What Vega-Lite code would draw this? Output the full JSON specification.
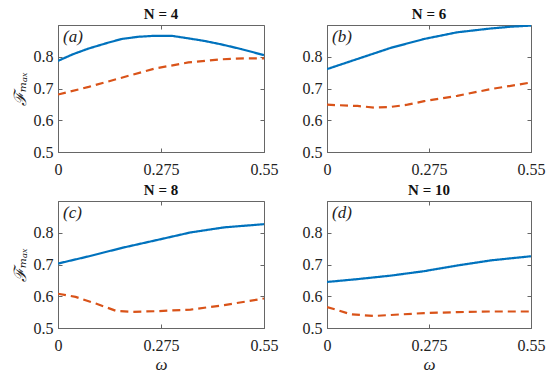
{
  "$schema": "https://vega.github.io/schema/vega-lite/v6.json",
  "background": "white",
  "padding": {"left": 10, "top": 6, "right": 5, "bottom": 2},
  "config": {
    "font": "'Times New Roman', Times, 'Liberation Serif', 'DejaVu Serif', serif",
    "view": {"stroke": "#666", "strokeWidth": 1},
    "axis": {"grid": false, "domainColor": "#666", "tickColor": "#666", "tickSize": -4, "labelPadding": 9, "labelFont": "'Times New Roman', Times, 'Liberation Serif', 'DejaVu Serif', serif", "labelFontSize": 16, "labelColor": "#222", "labelFlush": false, "labelOverlap": false, "titleFont": "'Times New Roman', Times, 'Liberation Serif', 'DejaVu Serif', serif", "titleFontSize": 17, "titleFontStyle": "italic", "titleFontWeight": "normal", "titleColor": "#222"},
    "axisBottom": {"labelPadding": 13},
    "title": {"font": "'Times New Roman', Times, 'Liberation Serif', 'DejaVu Serif', serif", "fontSize": 15, "fontWeight": "bold", "color": "#111", "offset": 3},
    "text": {"font": "'Times New Roman', Times, 'Liberation Serif', 'DejaVu Serif', serif"}
  },
  "columns": 2,
  "spacing": {"row": 4, "column": 22},
  "data": {"values": [
    {"N": 4, "s": "solid", "w": 0, "F": 0.787},
    {"N": 4, "s": "solid", "w": 0.04, "F": 0.808},
    {"N": 4, "s": "solid", "w": 0.082, "F": 0.826},
    {"N": 4, "s": "solid", "w": 0.13, "F": 0.843},
    {"N": 4, "s": "solid", "w": 0.17, "F": 0.856},
    {"N": 4, "s": "solid", "w": 0.215, "F": 0.863},
    {"N": 4, "s": "solid", "w": 0.259, "F": 0.866},
    {"N": 4, "s": "solid", "w": 0.303, "F": 0.866},
    {"N": 4, "s": "solid", "w": 0.348, "F": 0.858},
    {"N": 4, "s": "solid", "w": 0.39, "F": 0.85},
    {"N": 4, "s": "solid", "w": 0.436, "F": 0.839},
    {"N": 4, "s": "solid", "w": 0.49, "F": 0.824},
    {"N": 4, "s": "solid", "w": 0.55, "F": 0.805},
    {"N": 4, "s": "dashed", "w": 0, "F": 0.681},
    {"N": 4, "s": "dashed", "w": 0.082, "F": 0.705},
    {"N": 4, "s": "dashed", "w": 0.17, "F": 0.734},
    {"N": 4, "s": "dashed", "w": 0.259, "F": 0.763},
    {"N": 4, "s": "dashed", "w": 0.348, "F": 0.782},
    {"N": 4, "s": "dashed", "w": 0.436, "F": 0.792},
    {"N": 4, "s": "dashed", "w": 0.5, "F": 0.795},
    {"N": 4, "s": "dashed", "w": 0.55, "F": 0.795},
    {"N": 6, "s": "solid", "w": 0, "F": 0.761},
    {"N": 6, "s": "solid", "w": 0.082, "F": 0.793},
    {"N": 6, "s": "solid", "w": 0.172, "F": 0.828},
    {"N": 6, "s": "solid", "w": 0.262, "F": 0.856},
    {"N": 6, "s": "solid", "w": 0.351, "F": 0.877},
    {"N": 6, "s": "solid", "w": 0.441, "F": 0.889},
    {"N": 6, "s": "solid", "w": 0.5, "F": 0.895},
    {"N": 6, "s": "solid", "w": 0.55, "F": 0.898},
    {"N": 6, "s": "dashed", "w": 0, "F": 0.649},
    {"N": 6, "s": "dashed", "w": 0.082, "F": 0.645},
    {"N": 6, "s": "dashed", "w": 0.127, "F": 0.64},
    {"N": 6, "s": "dashed", "w": 0.172, "F": 0.642},
    {"N": 6, "s": "dashed", "w": 0.217, "F": 0.649},
    {"N": 6, "s": "dashed", "w": 0.262, "F": 0.66},
    {"N": 6, "s": "dashed", "w": 0.351, "F": 0.677},
    {"N": 6, "s": "dashed", "w": 0.441, "F": 0.698},
    {"N": 6, "s": "dashed", "w": 0.55, "F": 0.719},
    {"N": 8, "s": "solid", "w": 0, "F": 0.703},
    {"N": 8, "s": "solid", "w": 0.083, "F": 0.726},
    {"N": 8, "s": "solid", "w": 0.173, "F": 0.753},
    {"N": 8, "s": "solid", "w": 0.264, "F": 0.777},
    {"N": 8, "s": "solid", "w": 0.354, "F": 0.801},
    {"N": 8, "s": "solid", "w": 0.444, "F": 0.817},
    {"N": 8, "s": "solid", "w": 0.55, "F": 0.827},
    {"N": 8, "s": "dashed", "w": 0, "F": 0.608},
    {"N": 8, "s": "dashed", "w": 0.047, "F": 0.598},
    {"N": 8, "s": "dashed", "w": 0.101, "F": 0.577},
    {"N": 8, "s": "dashed", "w": 0.155, "F": 0.554},
    {"N": 8, "s": "dashed", "w": 0.2, "F": 0.551},
    {"N": 8, "s": "dashed", "w": 0.264, "F": 0.553},
    {"N": 8, "s": "dashed", "w": 0.354, "F": 0.558},
    {"N": 8, "s": "dashed", "w": 0.444, "F": 0.572},
    {"N": 8, "s": "dashed", "w": 0.55, "F": 0.593},
    {"N": 10, "s": "solid", "w": 0, "F": 0.645},
    {"N": 10, "s": "solid", "w": 0.083, "F": 0.654},
    {"N": 10, "s": "solid", "w": 0.172, "F": 0.665},
    {"N": 10, "s": "solid", "w": 0.262, "F": 0.679},
    {"N": 10, "s": "solid", "w": 0.352, "F": 0.697},
    {"N": 10, "s": "solid", "w": 0.442, "F": 0.713},
    {"N": 10, "s": "solid", "w": 0.55, "F": 0.726},
    {"N": 10, "s": "dashed", "w": 0, "F": 0.566},
    {"N": 10, "s": "dashed", "w": 0.029, "F": 0.556},
    {"N": 10, "s": "dashed", "w": 0.065, "F": 0.543},
    {"N": 10, "s": "dashed", "w": 0.128, "F": 0.538},
    {"N": 10, "s": "dashed", "w": 0.172, "F": 0.541},
    {"N": 10, "s": "dashed", "w": 0.262, "F": 0.547},
    {"N": 10, "s": "dashed", "w": 0.352, "F": 0.55},
    {"N": 10, "s": "dashed", "w": 0.442, "F": 0.552},
    {"N": 10, "s": "dashed", "w": 0.55, "F": 0.552}
  ]},
  "concat": [
    {
      "title": "N = 4", "width": 206, "height": 127,
      "resolve": {"axis": {"x": "independent", "y": "independent"}},
      "layer": [
        {
          "transform": [{"filter": "datum.N == 4"}],
          "mark": {"type": "line", "strokeWidth": 2.2, "clip": true},
          "encoding": {
            "x": {"field": "w", "type": "quantitative", "scale": {"domain": [0, 0.55], "nice": false, "zero": false}, "axis": {"orient": "bottom", "values": [0, 0.275, 0.55], "format": ".3~f", "title": null}},
            "y": {"field": "F", "type": "quantitative", "scale": {"domain": [0.5, 0.9], "nice": false, "zero": false}, "axis": {"orient": "left", "values": [0.5, 0.6, 0.7, 0.8], "format": ".1f", "title": "ℱₘₐₓ", "titlePadding": 4}},
            "color": {"field": "s", "type": "nominal", "scale": {"domain": ["solid", "dashed"], "range": ["#0072BD", "#D95319"]}, "legend": null},
            "strokeDash": {"field": "s", "type": "nominal", "scale": {"domain": ["solid", "dashed"], "range": [[1, 0], [8, 5]]}, "legend": null}
          }
        },
        {
          "data": {"values": [{"label": "(a)"}]},
          "mark": {"type": "text", "align": "left", "baseline": "top", "dx": 5, "dy": 4, "fontSize": 17, "fontStyle": "italic", "color": "#222"},
          "encoding": {"x": {"datum": 0, "type": "quantitative", "scale": {"domain": [0, 0.55], "nice": false, "zero": false}, "axis": {"orient": "top", "labels": false, "title": null, "values": [0, 0.275, 0.55], "domain": false}}, "y": {"datum": 0.9, "type": "quantitative", "scale": {"domain": [0.5, 0.9], "nice": false, "zero": false}, "axis": {"orient": "right", "labels": false, "title": null, "values": [0.5, 0.6, 0.7, 0.8], "domain": false}}, "text": {"field": "label"}}
        }
      ]
    },
    {
      "title": "N = 6", "width": 204, "height": 127,
      "resolve": {"axis": {"x": "independent", "y": "independent"}},
      "layer": [
        {
          "transform": [{"filter": "datum.N == 6"}],
          "mark": {"type": "line", "strokeWidth": 2.2, "clip": true},
          "encoding": {
            "x": {"field": "w", "type": "quantitative", "scale": {"domain": [0, 0.55], "nice": false, "zero": false}, "axis": {"orient": "bottom", "values": [0, 0.275, 0.55], "format": ".3~f", "title": null}},
            "y": {"field": "F", "type": "quantitative", "scale": {"domain": [0.5, 0.9], "nice": false, "zero": false}, "axis": {"orient": "left", "values": [0.5, 0.6, 0.7, 0.8], "format": ".1f", "title": null}},
            "color": {"field": "s", "type": "nominal", "scale": {"domain": ["solid", "dashed"], "range": ["#0072BD", "#D95319"]}, "legend": null},
            "strokeDash": {"field": "s", "type": "nominal", "scale": {"domain": ["solid", "dashed"], "range": [[1, 0], [8, 5]]}, "legend": null}
          }
        },
        {
          "data": {"values": [{"label": "(b)"}]},
          "mark": {"type": "text", "align": "left", "baseline": "top", "dx": 5, "dy": 4, "fontSize": 17, "fontStyle": "italic", "color": "#222"},
          "encoding": {"x": {"datum": 0, "type": "quantitative", "scale": {"domain": [0, 0.55], "nice": false, "zero": false}, "axis": {"orient": "top", "labels": false, "title": null, "values": [0, 0.275, 0.55], "domain": false}}, "y": {"datum": 0.9, "type": "quantitative", "scale": {"domain": [0.5, 0.9], "nice": false, "zero": false}, "axis": {"orient": "right", "labels": false, "title": null, "values": [0.5, 0.6, 0.7, 0.8], "domain": false}}, "text": {"field": "label"}}
        }
      ]
    },
    {
      "title": "N = 8", "width": 206, "height": 127,
      "resolve": {"axis": {"x": "independent", "y": "independent"}},
      "layer": [
        {
          "transform": [{"filter": "datum.N == 8"}],
          "mark": {"type": "line", "strokeWidth": 2.2, "clip": true},
          "encoding": {
            "x": {"field": "w", "type": "quantitative", "scale": {"domain": [0, 0.55], "nice": false, "zero": false}, "axis": {"orient": "bottom", "values": [0, 0.275, 0.55], "format": ".3~f", "title": "ω", "titlePadding": 3}},
            "y": {"field": "F", "type": "quantitative", "scale": {"domain": [0.5, 0.9], "nice": false, "zero": false}, "axis": {"orient": "left", "values": [0.5, 0.6, 0.7, 0.8], "format": ".1f", "title": "ℱₘₐₓ", "titlePadding": 4}},
            "color": {"field": "s", "type": "nominal", "scale": {"domain": ["solid", "dashed"], "range": ["#0072BD", "#D95319"]}, "legend": null},
            "strokeDash": {"field": "s", "type": "nominal", "scale": {"domain": ["solid", "dashed"], "range": [[1, 0], [8, 5]]}, "legend": null}
          }
        },
        {
          "data": {"values": [{"label": "(c)"}]},
          "mark": {"type": "text", "align": "left", "baseline": "top", "dx": 5, "dy": 4, "fontSize": 17, "fontStyle": "italic", "color": "#222"},
          "encoding": {"x": {"datum": 0, "type": "quantitative", "scale": {"domain": [0, 0.55], "nice": false, "zero": false}, "axis": {"orient": "top", "labels": false, "title": null, "values": [0, 0.275, 0.55], "domain": false}}, "y": {"datum": 0.9, "type": "quantitative", "scale": {"domain": [0.5, 0.9], "nice": false, "zero": false}, "axis": {"orient": "right", "labels": false, "title": null, "values": [0.5, 0.6, 0.7, 0.8], "domain": false}}, "text": {"field": "label"}}
        }
      ]
    },
    {
      "title": "N = 10", "width": 204, "height": 127,
      "resolve": {"axis": {"x": "independent", "y": "independent"}},
      "layer": [
        {
          "transform": [{"filter": "datum.N == 10"}],
          "mark": {"type": "line", "strokeWidth": 2.2, "clip": true},
          "encoding": {
            "x": {"field": "w", "type": "quantitative", "scale": {"domain": [0, 0.55], "nice": false, "zero": false}, "axis": {"orient": "bottom", "values": [0, 0.275, 0.55], "format": ".3~f", "title": "ω", "titlePadding": 3}},
            "y": {"field": "F", "type": "quantitative", "scale": {"domain": [0.5, 0.9], "nice": false, "zero": false}, "axis": {"orient": "left", "values": [0.5, 0.6, 0.7, 0.8], "format": ".1f", "title": null}},
            "color": {"field": "s", "type": "nominal", "scale": {"domain": ["solid", "dashed"], "range": ["#0072BD", "#D95319"]}, "legend": null},
            "strokeDash": {"field": "s", "type": "nominal", "scale": {"domain": ["solid", "dashed"], "range": [[1, 0], [8, 5]]}, "legend": null}
          }
        },
        {
          "data": {"values": [{"label": "(d)"}]},
          "mark": {"type": "text", "align": "left", "baseline": "top", "dx": 5, "dy": 4, "fontSize": 17, "fontStyle": "italic", "color": "#222"},
          "encoding": {"x": {"datum": 0, "type": "quantitative", "scale": {"domain": [0, 0.55], "nice": false, "zero": false}, "axis": {"orient": "top", "labels": false, "title": null, "values": [0, 0.275, 0.55], "domain": false}}, "y": {"datum": 0.9, "type": "quantitative", "scale": {"domain": [0.5, 0.9], "nice": false, "zero": false}, "axis": {"orient": "right", "labels": false, "title": null, "values": [0.5, 0.6, 0.7, 0.8], "domain": false}}, "text": {"field": "label"}}
        }
      ]
    }
  ]
}
